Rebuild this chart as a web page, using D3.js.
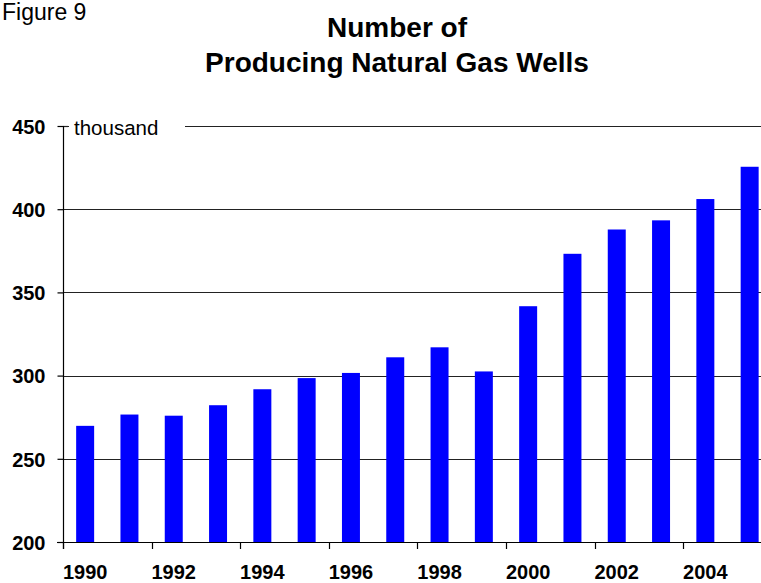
<!DOCTYPE html>
<html>
<head>
<meta charset="utf-8">
<script src="https://cdn.jsdelivr.net/npm/d3@7"></script>
<style>
  html, body { margin: 0; padding: 0; background: #fff; }
  svg { display: block; font-family: "Liberation Sans", Arial, Helvetica, sans-serif; }
</style>
</head>
<body>
<svg id="chart" width="761" height="583"></svg>
<script>
const years = [1990,1991,1992,1993,1994,1995,1996,1997,1998,1999,2000,2001,2002,2003,2004,2005];
const wells = [269.8,276.6,275.9,282.2,291.8,298.5,301.6,311.0,317.0,302.5,341.7,373.2,387.8,393.3,406.1,425.5];
const yTicks = [200,250,300,350,400,450];
const xLabelYears = [1990,1992,1994,1996,1998,2000,2002,2004];
const titleLines = ["Number of", "Producing Natural Gas Wells"];
const figureLabel = "Figure 9";
const unitLabel = "thousand";

(function () {
const svg = d3.select("#chart");
const mLeft = 63, mTop = 126, mBottom = 542, step = 44.3;

const x = d3.scaleBand()
  .domain(years)
  .range([mLeft, mLeft + step * years.length])
  .paddingInner(0.594)
  .paddingOuter(0.297);
const xCat = d3.scaleBand().domain(years).range([mLeft, mLeft + step * years.length]).padding(0);

const y = d3.scaleLinear().domain([200, 450]).range([mBottom, mTop]);

// title
svg.append("text").attr("x", 2).attr("y", 20)
  .attr("font-size", 23).attr("fill", "#000").text(figureLabel);
svg.selectAll("text.title").data(titleLines).join("text")
  .attr("class", "title")
  .attr("x", 397).attr("y", (d, i) => 37 + i * 35)
  .attr("text-anchor", "middle").attr("font-size", 28).attr("font-weight", "bold")
  .attr("fill", "#000").text(d => d);

// gridlines
svg.append("g").selectAll("line").data(yTicks.filter(t => t > 200)).join("line")
  .attr("x1", mLeft).attr("x2", 761)
  .attr("y1", d => Math.round(y(d)) + 0.5).attr("y2", d => Math.round(y(d)) + 0.5)
  .attr("stroke", "#222").attr("stroke-width", 1.2);

// bars
svg.append("g").selectAll("rect").data(years).join("rect")
  .attr("x", d => x(d))
  .attr("width", x.bandwidth())
  .attr("y", (d, i) => y(wells[i]))
  .attr("height", (d, i) => y(200) - y(wells[i]))
  .attr("fill", "#0000ff");

// unit label with white background
svg.append("rect").attr("x", 69).attr("y", 115).attr("width", 116).attr("height", 24).attr("fill", "#fff");
svg.append("line").attr("x1", mLeft).attr("x2", 68).attr("y1", Math.round(y(450)) + 0.5).attr("y2", Math.round(y(450)) + 0.5)
  .attr("stroke", "#222").attr("stroke-width", 1.2);
svg.append("text").attr("x", 74).attr("y", 135).attr("font-size", 20.5).attr("fill", "#000").text(unitLabel);

// y axis
const yAxis = d3.axisLeft(y).tickValues(yTicks).tickSize(6).tickPadding(12).tickFormat(d3.format("d"));
const gy = svg.append("g").attr("transform", `translate(${mLeft + 0.5},0)`).call(yAxis);
gy.select(".domain").attr("d", `M0,${y(450)}V${mBottom + 7}`).attr("stroke", "#000").attr("stroke-width", 1.2);
gy.selectAll(".tick line").attr("stroke", "#000").attr("stroke-width", 1.2);
gy.selectAll(".tick text").attr("font-size", 20).attr("font-weight", "bold").attr("fill", "#000")
  .attr("font-family", "'Liberation Sans', Arial, sans-serif").attr("dy", "0.36em");

// x axis baseline
svg.append("line").attr("x1", mLeft - 6).attr("x2", 761)
  .attr("y1", mBottom + 0.5).attr("y2", mBottom + 0.5).attr("stroke", "#000").attr("stroke-width", 1.2);

// x ticks at category boundaries
svg.append("g").selectAll("line").data(xLabelYears).join("line")
  .attr("x1", d => Math.round(xCat(d)) + 0.5).attr("x2", d => Math.round(xCat(d)) + 0.5)
  .attr("y1", mBottom).attr("y2", mBottom + 7)
  .attr("stroke", "#000").attr("stroke-width", 1.2);

// x labels
svg.append("g").selectAll("text").data(xLabelYears).join("text")
  .attr("x", d => xCat(d) + xCat.bandwidth() / 2)
  .attr("y", 579)
  .attr("text-anchor", "middle").attr("font-size", 20).attr("font-weight", "bold").attr("fill", "#000")
  .text(d => d);
})();
</script>
</body>
</html>
